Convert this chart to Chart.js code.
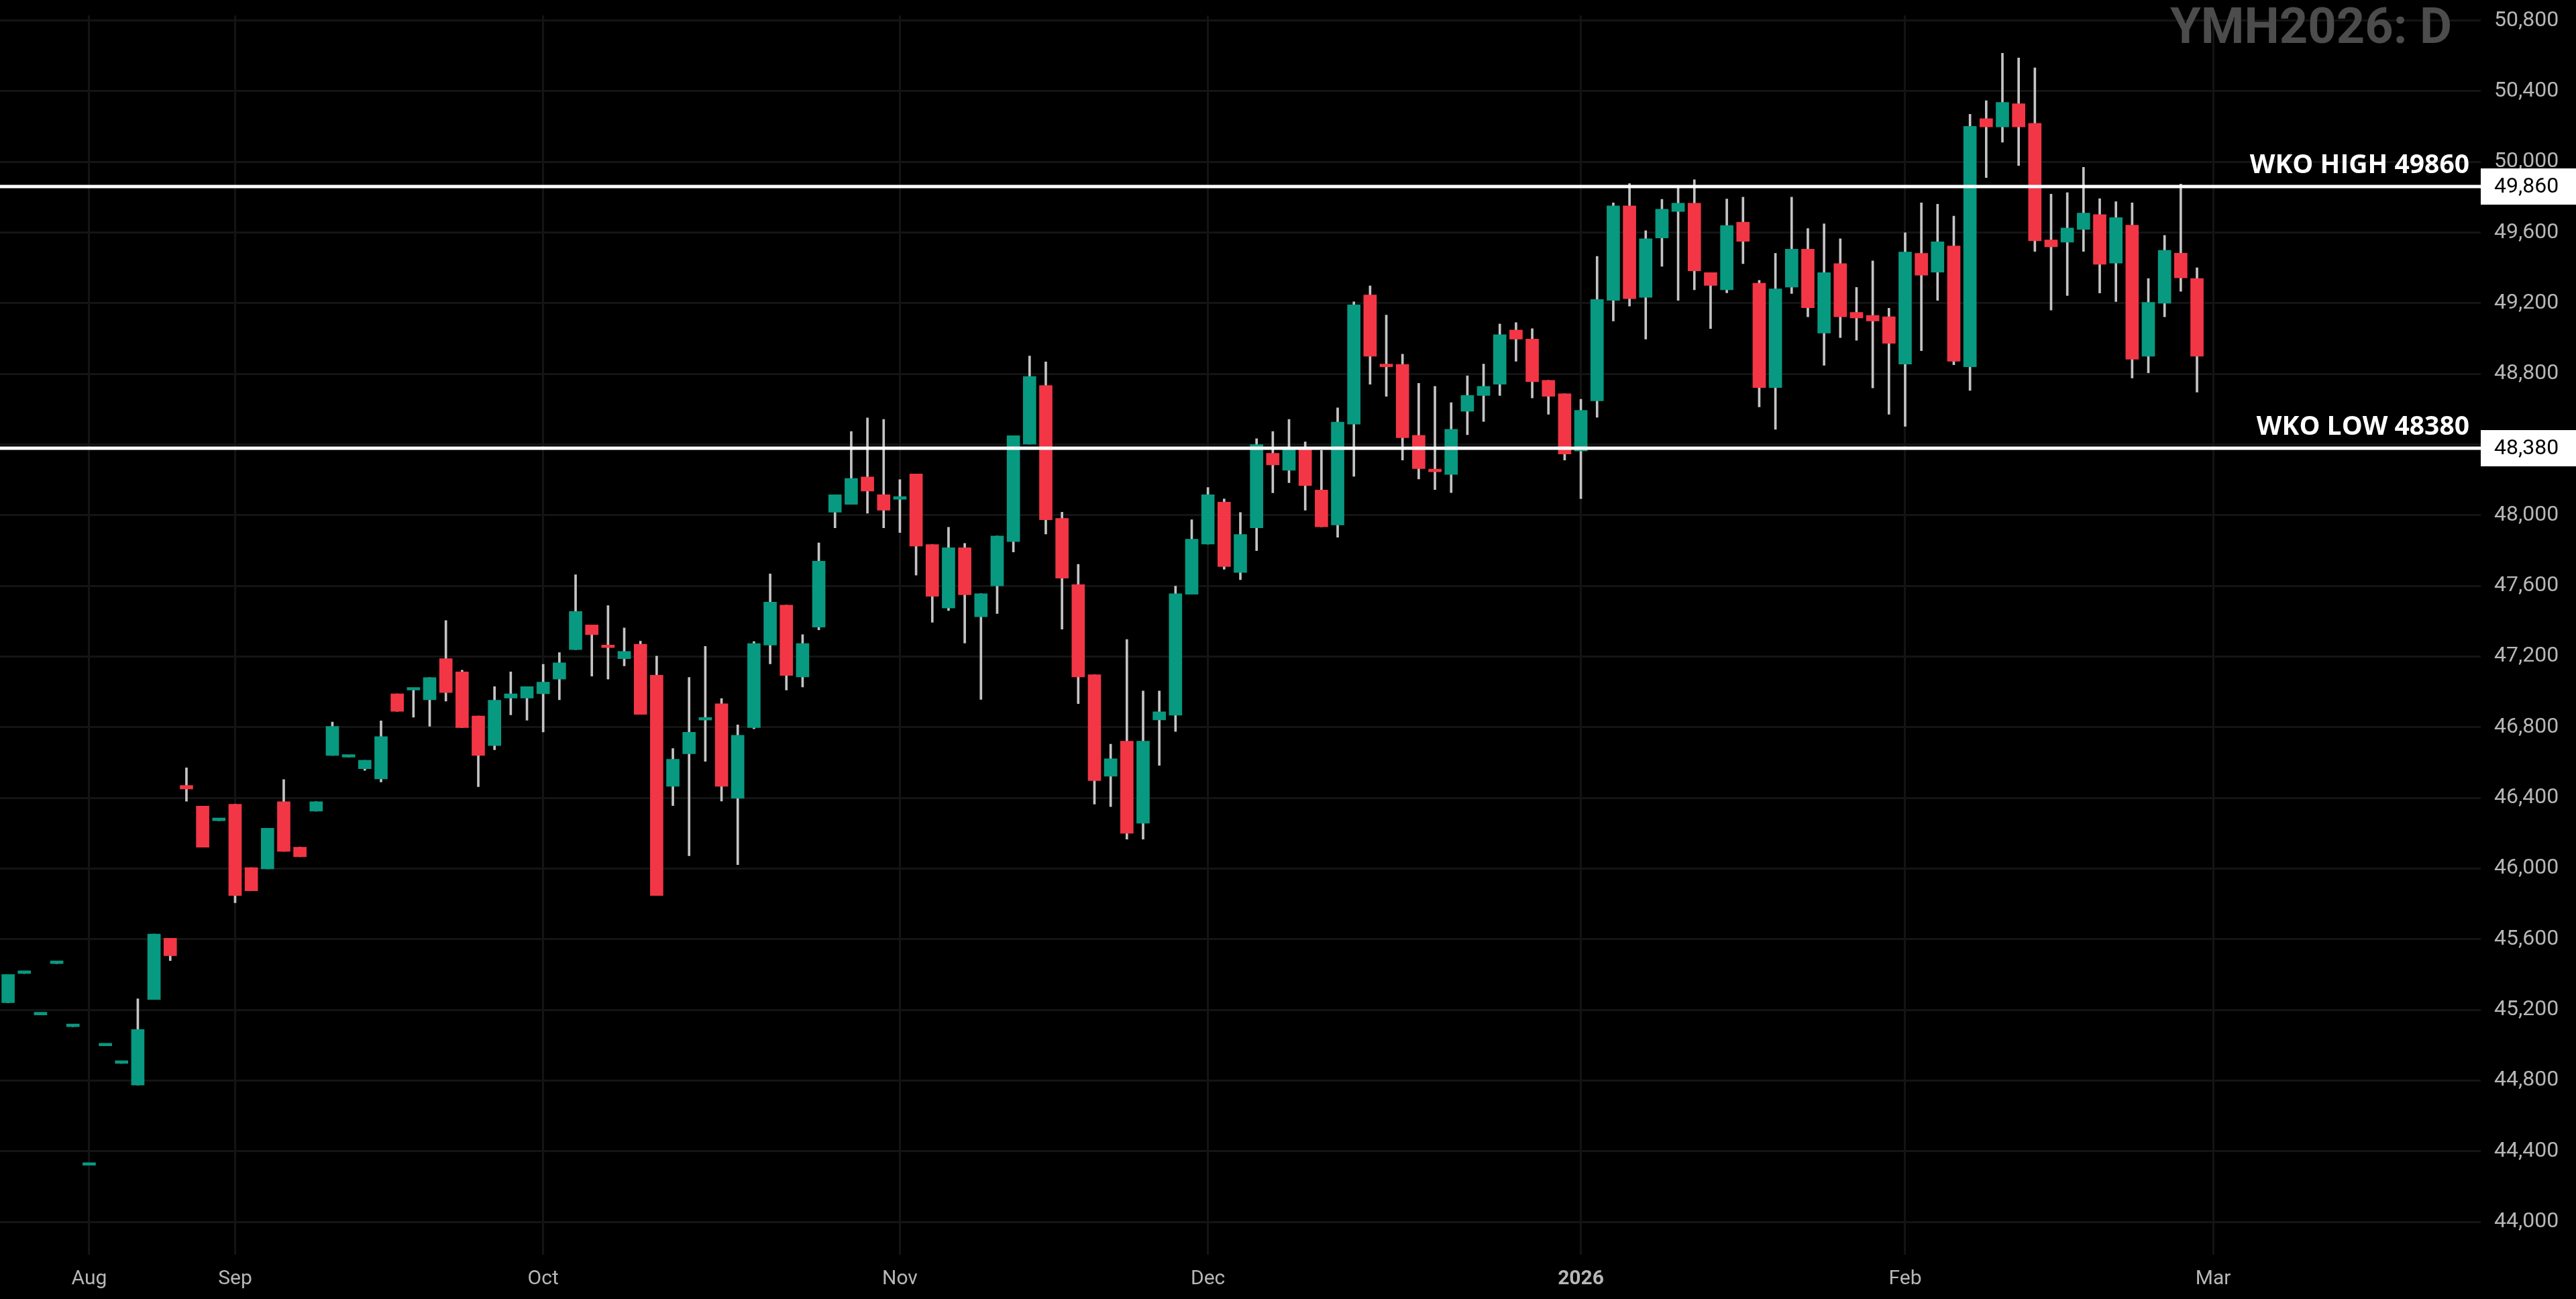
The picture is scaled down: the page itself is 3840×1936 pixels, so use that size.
<!DOCTYPE html>
<html><head><meta charset="utf-8">
<script src="https://cdn.jsdelivr.net/npm/chart.js@4"></script>
<style>html,body{margin:0;padding:0;background:#000;overflow:hidden}canvas{display:block}</style>
</head><body>
<canvas id="c" width="3840" height="1936" style="width:3840px;height:1936px"></canvas>
<script>
const openP=[45240,45406,45171,45462,45105,44320,44996,44897,44774,45258,45605,46470,46354,46271,46364,46005,45998,46378,46121,46325,46640,46630,46565,46507,46989,47010,46955,47188,47113,46863,46696,46965,46965,46989,47072,47239,47379,47255,47188,47270,47094,46465,46649,46840,46933,46398,46798,47265,47491,47084,47366,48017,48061,48216,48116,48090,48234,47834,47475,47816,47425,47600,47851,48402,48734,47982,47607,47097,46522,46721,46256,46841,46868,47552,47836,48074,47676,47928,48350,48254,48378,48142,47945,48515,49247,48845,48854,48452,48252,48230,48588,48678,48741,49048,48997,48763,48687,48363,48647,49216,49751,49233,49569,49719,49766,49373,49276,49659,49313,48722,49291,49506,49031,49424,49148,49131,49123,48855,49482,49375,49524,48840,50245,50198,50329,50218,49558,49545,49618,49701,49427,49642,48900,49200,49483,49340];
const highP=[45400,45416,45181,45472,45115,44330,45006,44907,45263,45629,45605,46570,46354,46281,46364,46005,46228,46504,46121,46378,46829,46640,46613,46836,46989,47020,47081,47404,47123,46863,47030,47113,47030,47156,47222,47663,47379,47488,47362,47287,47202,46679,47082,47257,46962,46813,47285,47668,47491,47324,47843,48116,48474,48551,48542,48201,48234,47834,47932,47840,47556,47882,48450,48901,48868,48017,47722,47097,46704,47296,47005,47005,47598,47974,48157,48092,48015,48433,48474,48542,48415,48367,48608,49208,49298,49133,48911,48746,48729,48637,48789,48855,49082,49090,49056,48763,48687,48656,49465,49768,49877,49610,49788,49857,49899,49373,49790,49800,49329,49482,49800,49623,49649,49565,49289,49439,49172,49599,49768,49760,49693,50269,50346,50615,50588,50532,49817,49826,49969,49792,49775,49768,49340,49584,49874,49400];
const lowP=[45240,45406,45171,45462,45105,44320,44996,44897,44774,45258,45479,46381,46121,46271,45806,45874,45998,46097,46066,46325,46640,46630,46555,46490,46890,46856,46805,46948,46798,46463,46672,46870,46839,46773,46955,47239,47089,47072,47147,46873,45847,46356,46072,46607,46382,46022,46791,47158,47010,47027,47351,47928,48061,48011,47928,47902,47661,47394,47460,47276,46957,47443,47792,48402,47893,47355,46933,46365,46350,46166,46166,46584,46776,47552,47836,47694,47635,47799,48127,48184,48028,47934,47875,48220,48741,48673,48312,48205,48145,48128,48455,48530,48678,48871,48663,48571,48312,48094,48554,49099,49184,48997,49409,49216,49276,49056,49259,49424,48613,48486,49255,49123,48848,49005,48990,48720,48571,48503,48931,49216,48851,48706,49911,50111,49979,49493,49161,49243,49493,49258,49209,48776,48806,49123,49267,48697];
const closeP=[45400,45416,45181,45472,45115,44330,45006,44907,45089,45629,45506,46450,46121,46281,45847,45874,46228,46097,46066,46378,46805,46640,46613,46747,46890,47020,47081,46996,46798,46640,46953,46989,47030,47055,47164,47455,47324,47250,47229,46873,45847,46618,46771,46848,46465,46754,47274,47508,47093,47274,47740,48116,48208,48136,48028,48105,47825,47541,47816,47550,47556,47882,48450,48785,47974,47644,47084,46498,46621,46199,46721,46887,47556,47864,48116,47709,47891,48400,48284,48378,48168,47934,48527,49191,48900,48840,48438,48264,48246,48486,48678,48729,49022,48997,48755,48673,48346,48593,49221,49751,49225,49565,49732,49766,49383,49300,49640,49550,48722,49281,49506,49174,49373,49123,49116,49099,48973,49490,49358,49548,48871,50201,50198,50337,50198,49553,49519,49625,49710,49420,49684,48883,49205,49499,49343,48900];
const monthIdx=[5,14,33,55,74,97,117,136];
const monthText=['Aug','Sep','Oct','Nov','Dec','2026','Feb','Mar'];
const yTicks=[44000,44400,44800,45200,45600,46000,46400,46800,47200,47600,48000,48400,48800,49200,49600,50000,50400,50800];
const levels=[49860,48380];
const levelText=['WKO HIGH 49860','WKO LOW 48380'];
const watermark='YMH2026: D';

const N=153;
const labels=Array.from({length:N},(_,i)=>String(i));
const UP='#089981',DN='#F23645';
const cols=openP.map((o,i)=>closeP[i]>=o?UP:DN);
const fmt=v=>v.toLocaleString('en-US');

const bg={id:'bg',beforeDraw(c){const x=c.ctx;x.save();x.fillStyle='#000';x.fillRect(0,0,c.width,c.height);x.restore();}};
const over={id:'over',afterDraw(c){
  const x=c.ctx,y=c.scales.y,a=c.chartArea;x.save();
  x.font='bold 74px "Liberation Sans Narrow","Roboto",sans-serif';x.fillStyle='#4c4c4c';x.textAlign='right';x.textBaseline='alphabetic';
  x.fillText(watermark,3655,64);
  levels.forEach((v,i)=>{
    const py=Math.round(y.getPixelForValue(v));
    x.fillStyle='#fff';x.fillRect(0,py-2.5,a.right,5);
    x.font='bold 39px "Open Sans","Noto Sans",sans-serif';x.textAlign='right';x.textBaseline='alphabetic';
    x.fillText(levelText[i],3681,py-20);
    x.fillRect(a.right,py-27,3840-a.right,54);
    x.fillStyle='#000';x.font='32px Roboto,sans-serif';x.textAlign='left';x.textBaseline='middle';
    x.fillText(fmt(v),3718,py+1);
  });
  x.restore();}};

new Chart(document.getElementById('c'),{
  type:'bar',
  data:{labels,datasets:[
    {data:highP.map((h,i)=>[lowP[i],h]),backgroundColor:'#c4c4c4',barThickness:3,grouped:false,order:2},
    {data:openP.map((o,i)=>[o,closeP[i]]),backgroundColor:cols,barThickness:19,minBarLength:4,grouped:false,order:1}
  ]},
  options:{responsive:false,animation:false,devicePixelRatio:1,
    layout:{padding:{top:0,left:-6}},
    plugins:{legend:{display:false},tooltip:{enabled:false}},
    scales:{
      x:{type:'category',offset:true,
        afterBuildTicks:s=>{s.ticks=monthIdx.map(v=>({value:v}));},
        afterFit:s=>{s.height=66;},
        grid:{color:'#141414',lineWidth:3,drawTicks:false,offset:false},border:{display:false},
        ticks:{autoSkip:false,maxRotation:0,padding:18,color:'#b7b7b7',
          callback:(v,i)=>monthText[i],
          font:c=>({family:'Roboto',size:30,weight:(c.tick&&monthText[c.index]==='2026')?'bold':'normal'})}},
      y:{position:'right',min:43814,max:50828,
        afterBuildTicks:s=>{s.ticks=yTicks.map(v=>({value:v}));},
        afterFit:s=>{s.width=142;},
        grid:{color:'#141414',lineWidth:3,drawTicks:false},border:{display:false},
        ticks:{padding:20,color:'#b7b7b7',font:{family:'Roboto',size:32,lineHeight:0.2},callback:v=>fmt(v)}}
    }},
  plugins:[bg,over]
});
</script></body></html>
